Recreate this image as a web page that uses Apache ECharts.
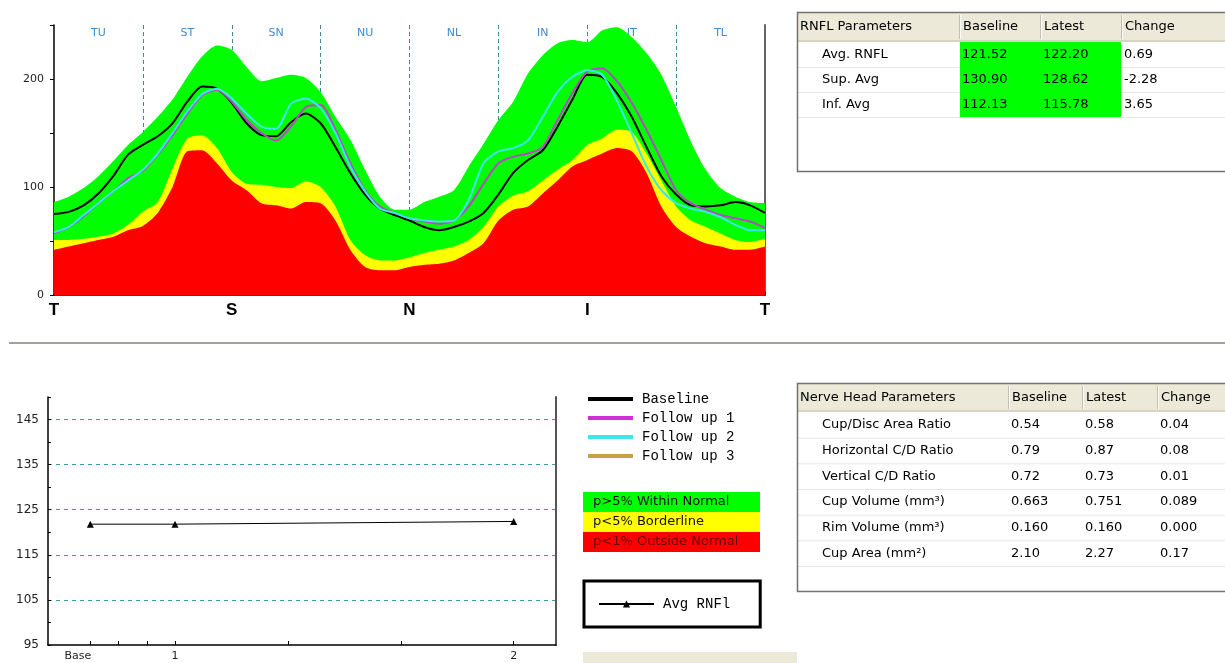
<!DOCTYPE html>
<html>
<head>
<meta charset="utf-8">
<title>RNFL TSNIT</title>
<script src="https://cdn.jsdelivr.net/npm/echarts@6/dist/echarts.min.js"></script>
<style>
html, body { margin: 0; padding: 0; background: #fff; }
#main { width: 1225px; height: 663px; }
</style>
</head>
<body>
<div id="main"></div>
<script>
// TSNIT profile, read every 7.5 degrees (T=0, S=90, N=180, I=270, T=360)
var angles = [0, 7.5, 15, 22.5, 30, 37.5, 45, 52.5, 60, 67.5, 75, 82.5, 90, 97.5, 105, 112.5, 120, 127.5, 135, 142.5, 150, 157.5, 165, 172.5, 180,
  187.5, 195, 202.5, 210, 217.5, 225, 232.5, 240, 247.5, 255, 262.5, 270, 277.5, 285, 292.5, 300, 307.5, 315, 322.5, 330, 337.5, 345, 352.5, 360];
var normal95 = [86, 91, 99, 110, 124, 139, 151, 165, 181, 202, 221, 231, 227, 211, 198, 201, 204, 201, 188, 165, 144, 116, 91, 79, 79,
  86, 91, 97, 119, 140, 162, 179, 205, 222, 233, 236, 234, 245, 248, 239, 224, 204, 174, 142, 116, 99, 91, 86, 85];
var normal5 = [51, 51, 52, 54, 57, 65, 77, 86, 117, 145, 148, 136, 114, 103, 102, 100, 99, 105, 100, 82, 51, 37, 32, 32, 35,
  39, 42, 45, 51, 63, 82, 92, 96, 106, 116, 125, 139, 145, 153, 151, 131, 106, 82, 69, 63, 57, 51, 49, 52];
var normal1 = [42, 45, 48, 51, 54, 60, 64, 76, 100, 133, 134, 122, 106, 97, 85, 83, 80, 86, 85, 69, 42, 26, 23, 23, 26,
  28, 29, 32, 39, 48, 69, 79, 82, 94, 106, 119, 125, 131, 136, 133, 113, 82, 63, 54, 48, 45, 42, 42, 45];
var baseline = [75, 77, 83, 94, 110, 130, 139, 147, 159, 179, 193, 191, 178, 159, 148, 147, 160, 168, 159, 137, 113, 93, 80, 74, 69,
  63, 60, 63, 68, 76, 93, 113, 125, 134, 156, 181, 204, 202, 187, 165, 137, 110, 93, 83, 82, 83, 86, 83, 76];
var followUp1 = [57, 63, 73, 85, 96, 108, 115, 130, 148, 168, 185, 190, 179, 162, 150, 143, 156, 174, 176, 153, 122, 97, 82, 76, 71,
  68, 66, 69, 82, 103, 122, 128, 131, 137, 162, 187, 207, 210, 198, 178, 153, 125, 97, 85, 79, 74, 71, 68, 62];
var followUp2 = [58, 63, 74, 85, 96, 106, 116, 131, 150, 170, 186, 191, 182, 168, 156, 154, 177, 182, 173, 150, 119, 96, 80, 76, 71,
  69, 68, 69, 88, 122, 133, 136, 143, 165, 188, 202, 208, 204, 180, 150, 119, 97, 85, 80, 77, 72, 65, 60, 60];
var followUp3 = [];
var sectorNames = ['TU', 'ST', 'SN', 'NU', 'NL', 'IN', 'IT', 'TL'];
var quadrantTicks = [0, 90, 180, 270, 360];
var quadrantNames = ['T', 'S', 'N', 'I', 'T'];

// Avg RNFL trend
var visitNames = ['Base', '1', '2'];
var visitPos = [0, 1, 5];
var visitTickPos = [0, 1 / 3, 2 / 3, 1, 7 / 3, 11 / 3, 5];
var avgRnfl = [121.8, 121.8, 122.4];

// tables
var rnflHeader = ['RNFL Parameters', 'Baseline', 'Latest', 'Change'];
var rnflRows = [
  ['Avg. RNFL', '121.52', '122.20', '0.69'],
  ['Sup. Avg', '130.90', '128.62', '-2.28'],
  ['Inf. Avg', '112.13', '115.78', '3.65']
];
var onhHeader = ['Nerve Head Parameters', 'Baseline', 'Latest', 'Change'];
var onhRows = [
  ['Cup/Disc Area Ratio', '0.54', '0.58', '0.04'],
  ['Horizontal C/D Ratio', '0.79', '0.87', '0.08'],
  ['Vertical C/D Ratio', '0.72', '0.73', '0.01'],
  ['Cup Volume (mm\u00b3)', '0.663', '0.751', '0.089'],
  ['Rim Volume (mm\u00b3)', '0.160', '0.160', '0.000'],
  ['Cup Area (mm\u00b2)', '2.10', '2.27', '0.17']
];
var zoneNames = ['p>5% Within Normal', 'p<5% Borderline', 'p<1% Outside Normal'];

var GREEN = '#00ff00', YELLOW = '#ffff00', RED = '#ff0000';
var TABLE_FONT = '13px "DejaVu Sans"';

function pairs(vals) {
  return angles.map(function (a, i) { return [a, vals[i]]; });
}

function buildTable(t) {
  var els = [];
  var right = 1225;
  els.push({ type: 'rect', shape: { x: t.x, y: t.y, width: right - t.x, height: t.headH }, style: { fill: '#ece9d8' } });
  els.push({ type: 'line', shape: { x1: t.x, y1: t.y + t.headH - 1, x2: right, y2: t.y + t.headH - 1 }, style: { stroke: '#d8d4c4', lineWidth: 2 } });
  t.cols.slice(1).forEach(function (cx) {
    els.push({ type: 'line', shape: { x1: cx + 0.5, y1: t.y + 3, x2: cx + 0.5, y2: t.y + t.headH - 3 }, style: { stroke: '#c2bfae', lineWidth: 1 } });
    els.push({ type: 'line', shape: { x1: cx + 1.5, y1: t.y + 3, x2: cx + 1.5, y2: t.y + t.headH - 3 }, style: { stroke: '#ffffff', lineWidth: 1 } });
  });
  t.header.forEach(function (h, i) {
    els.push({ type: 'text', style: { x: t.cols[i] + (i === 0 ? 3 : 4), y: t.y + t.headH / 2, text: h, font: TABLE_FONT, fill: '#000', verticalAlign: 'middle' } });
  });
  t.rows.forEach(function (row, r) {
    var ry = t.y + t.headH + r * t.rowH;
    if (t.highlight) {
      els.push({ type: 'rect', shape: { x: t.cols[1] + 1, y: ry, width: t.cols[3] - t.cols[1] - 1, height: t.rowH }, style: { fill: GREEN } });
    }
    els.push({ type: 'line', shape: { x1: t.x, y1: ry + t.rowH + 0.5, x2: right, y2: ry + t.rowH + 0.5 }, style: { stroke: '#e6e6e6', lineWidth: 1 } });
    row.forEach(function (cell, i) {
      els.push({ type: 'text', style: { x: i === 0 ? t.cols[0] + 25 : t.cols[i] + 3, y: ry + t.rowH / 2, text: cell, font: TABLE_FONT, fill: '#000', verticalAlign: 'middle' } });
    });
  });
  els.push({ type: 'polyline', shape: { points: [[right, t.y + 0.5], [t.x + 0.5, t.y + 0.5], [t.x + 0.5, t.bottom - 0.5], [right, t.bottom - 0.5]] }, style: { stroke: '#707070', lineWidth: 1.5, fill: null } });
  return els;
}

var graphics = [];
// separator between upper and lower panel
graphics.push({ type: 'line', shape: { x1: 9, y1: 343, x2: 1225, y2: 343 }, style: { stroke: '#a2a29a', lineWidth: 2 } });
graphics = graphics.concat(buildTable({ x: 797, y: 12, headH: 30, rowH: 25, bottom: 172, cols: [797, 959, 1040, 1121], header: rnflHeader, rows: rnflRows, highlight: true }));
graphics = graphics.concat(buildTable({ x: 797, y: 383, headH: 29, rowH: 25.67, bottom: 592, cols: [797, 1008, 1082, 1157], header: onhHeader, rows: onhRows, highlight: false }));
// normative colour key
[GREEN, YELLOW, RED].forEach(function (c, i) {
  graphics.push({ type: 'rect', shape: { x: 583, y: 492 + i * 20, width: 177, height: 20 }, style: { fill: c } });
  graphics.push({ type: 'text', style: { x: 593, y: 502 + i * 20, text: zoneNames[i], font: '13px "DejaVu Sans"', fill: i === 2 ? '#6a0000' : '#111', verticalAlign: 'middle' } });
});
graphics.push({ type: 'rect', shape: { x: 583, y: 652, width: 214, height: 11 }, style: { fill: '#ece9d8' } });

var axisFont = '"DejaVu Sans"';
var SMOOTH = 0.25;

var option = {
  animation: false,
  backgroundColor: '#fff',
  grid: [
    { left: 54, right: 460, top: 25, bottom: 368 },
    { left: 48, right: 669, top: 397, bottom: 18 }
  ],
  legend: [
    {
      data: ['Baseline', 'Follow up 1', 'Follow up 2', 'Follow up 3'],
      orient: 'vertical', left: 583, top: 387,
      icon: 'rect', itemWidth: 45, itemHeight: 4, itemGap: 5,
      textStyle: { fontFamily: 'Liberation Mono', fontSize: 14, color: '#000', lineHeight: 14, padding: [0, 0, 0, 4] }
    },
    {
      data: ['Avg RNFl'],
      left: 584, top: 581, padding: [16, 30, 16, 14],
      borderColor: '#000', borderWidth: 3,
      itemWidth: 55, itemHeight: 9,
      textStyle: { fontFamily: 'Liberation Mono', fontSize: 14, color: '#000', padding: [0, 0, 0, 4] }
    }
  ],
  xAxis: [
    {
      gridIndex: 0, type: 'value', min: 0, max: 360, interval: 15,
      axisLine: { onZero: false, lineStyle: { color: '#000', width: 1.5 } },
      axisTick: { inside: true, length: 3, lineStyle: { color: '#000' } },
      axisLabel: {
        margin: 7, fontSize: 17, fontWeight: 'bold', color: '#000', fontFamily: 'Liberation Sans',
        formatter: function (v) { var i = quadrantTicks.indexOf(v); return i >= 0 ? quadrantNames[i] : ''; }
      },
      splitLine: { show: false }
    },
    {
      gridIndex: 0, type: 'category', position: 'top', data: sectorNames, boundaryGap: true,
      axisLine: { show: false }, axisTick: { show: false },
      axisLabel: { inside: true, margin: 3, fontSize: 11, color: '#3d8ad0', fontFamily: axisFont },
      splitLine: { show: true, showMinLine: false, showMaxLine: false, lineStyle: { type: [4, 3], color: '#3e8a9a', width: 1 } }
    },
    {
      gridIndex: 1, type: 'value', min: -0.5, max: 5.5,
      axisLine: { onZero: false, lineStyle: { color: '#000', width: 1.5 } },
      axisTick: { inside: true, length: 4, customValues: visitTickPos, lineStyle: { color: '#000' } },
      axisLabel: {
        customValues: visitPos, margin: 6, fontSize: 11, color: '#222', fontFamily: axisFont,
        formatter: function (v) {
          var i = visitPos.indexOf(v);
          if (i === 0) return '{b|' + visitNames[0] + '}';
          return i >= 0 ? visitNames[i] : '';
        },
        rich: { b: { padding: [0, 25, 0, 0], fontSize: 11, color: '#222', fontFamily: axisFont } }
      },
      splitLine: { show: false }
    }
  ],
  yAxis: [
    {
      gridIndex: 0, type: 'value', min: 0, max: 250, interval: 50,
      axisLine: { show: true, onZero: false, lineStyle: { color: '#000', width: 1.5 } },
      axisTick: { show: true, length: 4, lineStyle: { color: '#000' } },
      axisLabel: { margin: 10, fontSize: 11, color: '#222', fontFamily: axisFont, formatter: function (v) { return v % 100 === 0 ? v : ''; } },
      splitLine: { show: false }
    },
    {
      gridIndex: 0, type: 'value', position: 'right', min: 0, max: 250,
      axisLine: { show: true, onZero: false, lineStyle: { color: '#666', width: 2 } },
      axisTick: { show: false }, axisLabel: { show: false }, splitLine: { show: false }
    },
    {
      gridIndex: 1, type: 'value', min: 95, max: 150, interval: 10,
      axisLine: { show: true, onZero: false, lineStyle: { color: '#000', width: 1.5 } },
      axisTick: { show: true, inside: true, length: 3, lineStyle: { color: '#000' } },
      minorTick: { show: true, splitNumber: 2, length: 3, lineStyle: { color: '#000' } },
      axisLabel: { margin: 9, fontSize: 12, color: '#222', fontFamily: axisFont, formatter: function (v) { return v === 150 ? '' : v; } },
      splitLine: { show: true, showMinLine: false, showMaxLine: false, lineStyle: { type: [4, 4], color: '#3f9aa2', width: 1 } }
    },
    {
      gridIndex: 1, type: 'value', position: 'right', min: 95, max: 150,
      axisLine: { show: true, onZero: false, lineStyle: { color: '#555', width: 2 } },
      axisTick: { show: false }, axisLabel: { show: false }, splitLine: { show: false }
    }
  ],
  series: [
    { name: 'p95', type: 'line', xAxisIndex: 0, yAxisIndex: 0, data: pairs(normal95), smooth: SMOOTH, symbol: 'none', lineStyle: { width: 0 }, areaStyle: { color: GREEN, opacity: 1 } },
    { name: 'p5', type: 'line', xAxisIndex: 0, yAxisIndex: 0, data: pairs(normal5), smooth: SMOOTH, symbol: 'none', lineStyle: { width: 0 }, areaStyle: { color: YELLOW, opacity: 1 } },
    { name: 'p1', type: 'line', xAxisIndex: 0, yAxisIndex: 0, data: pairs(normal1), smooth: SMOOTH, symbol: 'none', lineStyle: { width: 0 }, areaStyle: { color: RED, opacity: 1 } },
    { name: 'Baseline', type: 'line', xAxisIndex: 0, yAxisIndex: 0, data: pairs(baseline), smooth: SMOOTH, symbol: 'none', color: '#000', lineStyle: { color: '#000', width: 2 } },
    { name: 'Follow up 1', type: 'line', xAxisIndex: 0, yAxisIndex: 0, data: pairs(followUp1), smooth: SMOOTH, symbol: 'none', color: '#d030d8', lineStyle: { color: '#b848c8', width: 2 } },
    { name: 'Follow up 2', type: 'line', xAxisIndex: 0, yAxisIndex: 0, data: pairs(followUp2), smooth: SMOOTH, symbol: 'none', color: '#3ae8e8', lineStyle: { color: '#3ae8e8', width: 2 } },
    { name: 'Follow up 3', type: 'line', xAxisIndex: 0, yAxisIndex: 0, data: followUp3, symbol: 'none', color: '#c8a048', lineStyle: { color: '#c8a048', width: 2 } },
    {
      name: 'Avg RNFl', type: 'line', xAxisIndex: 2, yAxisIndex: 2,
      data: visitPos.map(function (p, i) { return [p, avgRnfl[i]]; }),
      symbol: 'triangle', symbolSize: 7, color: '#000',
      lineStyle: { color: '#000', width: 1 }, itemStyle: { color: '#000' }
    }
  ],
  graphic: graphics
};

var chart = echarts.init(document.getElementById('main'));
chart.setOption(option);
</script>
</body>
</html>
